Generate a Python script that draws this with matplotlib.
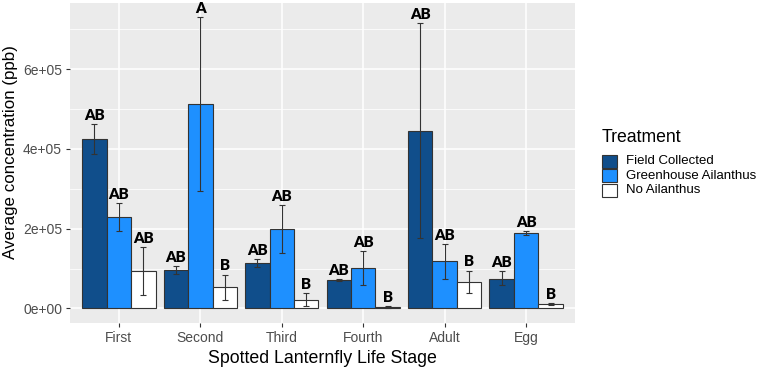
import matplotlib
matplotlib.use("Agg")
import matplotlib.pyplot as plt
from matplotlib.patches import Rectangle
from matplotlib.ticker import FixedLocator
import numpy as np

stages = ["First", "Second", "Third", "Fourth", "Adult", "Egg"]
treatments = ["Field Collected", "Greenhouse Ailanthus", "No Ailanthus"]
colors = ["#104E8B", "#1E90FF", "#FFFFFF"]

field_mean = [426000, 97000, 115000, 71000, 446000, 75000]
field_lo = [388000, 87000, 104000, 69000, 177000, 59000]
field_hi = [463000, 107000, 124000, 74000, 715000, 94000]

green_mean = [229000, 512000, 198000, 102000, 118000, 188000]
green_lo = [193000, 294000, 138000, 60000, 75000, 184000]
green_hi = [265000, 730000, 260000, 143000, 162000, 193000]

none_mean = [95000, 54000, 21000, 3500, 66000, 10000]
none_lo = [34000, 22000, 5000, 2000, 39000, 7500]
none_hi = [153000, 85000, 38000, 5000, 95000, 12500]

letters_field = ["AB", "AB", "AB", "AB", "AB", "AB"]
letters_green = ["AB", "A", "AB", "AB", "AB", "AB"]
letters_none = ["AB", "B", "B", "B", "B", "B"]

ytick_vals = [0, 200000, 400000, 600000]
ytick_labels = ["0e+00", "2e+05", "4e+05", "6e+05"]
yminor_vals = [100000, 300000, 500000, 700000]

means = [field_mean, green_mean, none_mean]
los = [field_lo, green_lo, none_lo]
his = [field_hi, green_hi, none_hi]
letters = [letters_field, letters_green, letters_none]

W, H = 762, 368
fig = plt.figure(figsize=(W / 100, H / 100), dpi=100)
fig.patch.set_facecolor("white")

pl, pr, pt, pb = 70, 575, 3, 323
ax = fig.add_axes([pl / W, 1 - pb / H, (pr - pl) / W, (pb - pt) / H])
ax.set_facecolor("#EBEBEB")
for s in ax.spines.values():
    s.set_visible(False)

x = np.arange(1, len(stages) + 1)
bw = 0.3
offsets = [-0.3, 0.0, 0.3]

for k in range(3):
    xs = x + offsets[k]
    m = np.array(means[k], dtype=float)
    lo = np.array(los[k], dtype=float)
    hi = np.array(his[k], dtype=float)
    ax.bar(xs, m, width=bw, color=colors[k], edgecolor="#333333", linewidth=0.8, zorder=3)
    ax.errorbar(xs, m, yerr=[m - lo, hi - m], fmt="none", ecolor="#333333",
                elinewidth=0.8, capsize=2.2, capthick=0.8, zorder=4)
    for xi, h, lab in zip(xs, hi, letters[k]):
        ax.text(xi, h + 10500, lab, ha="center", va="baseline", fontsize=10.8,
                fontweight="heavy", family="Lato", color="black", zorder=5)

ax.set_xlim(0.4, 6.6)
ax.set_ylim(-36500, 766000)

ax.yaxis.set_major_locator(FixedLocator(ytick_vals))
ax.yaxis.set_minor_locator(FixedLocator(yminor_vals))
ax.set_yticklabels(ytick_labels)
ax.set_xticks(x)
ax.set_xticklabels(stages)

ax.grid(which="major", color="white", linewidth=1.1, zorder=0)
ax.grid(which="minor", axis="y", color="white", linewidth=0.55, zorder=0)
ax.set_axisbelow(True)

ax.tick_params(which="major", length=3.2, width=0.8, color="#333333",
               labelcolor="#4D4D4D", labelsize=10, pad=2.5)
ax.tick_params(which="minor", length=0)
ax.tick_params(axis="x", pad=2.8)
for t in ax.get_xticklabels() + ax.get_yticklabels():
    t.set_family("Liberation Sans")

ax.set_xlabel("Spotted Lanternfly Life Stage", fontsize=12.8, family="Liberation Sans",
              color="black")
ax.set_ylabel("Average concentration (ppb)", fontsize=12.2, family="Liberation Sans",
              color="black")
ax.xaxis.label.set_va("baseline")
ax.xaxis.set_label_coords(0.5, (pb - 363.3) / (pb - pt))
ax.yaxis.label.set_rotation_mode("anchor")
ax.yaxis.label.set_va("baseline")
ax.yaxis.label.set_ha("center")
ax.yaxis.set_label_coords((15.5 - pl) / (pr - pl), (pb - 152.5) / (pb - pt))

# legend drawn manually
fig.text(601.5 / W, 1 - 137.5 / H, "Treatment", fontsize=12.7, family="Liberation Sans",
         va="center", ha="left")
key_top = 154.3
key_h = 14.4
for k in range(3):
    y0 = key_top + k * key_h
    fig.add_artist(Rectangle((602 / W, 1 - (y0 + key_h - 0.8) / H), 14.5 / W, (key_h - 1.2) / H,
                             transform=fig.transFigure, facecolor=colors[k],
                             edgecolor="#333333", linewidth=0.8))
    fig.text(626 / W, 1 - (y0 + key_h / 2) / H, treatments[k], fontsize=9.5,
             family="Liberation Sans", va="center", ha="left")

fig.savefig("out.png", dpi=100, facecolor="white")
